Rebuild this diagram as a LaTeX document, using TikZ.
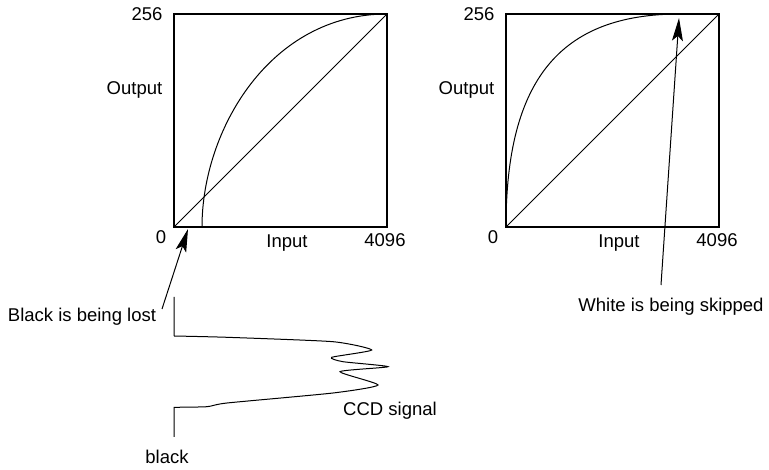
\documentclass[tikz,border=0pt]{standalone}
\usepackage{fontspec}
\setmainfont{Liberation Sans}
\usetikzlibrary{arrows.meta}
\begin{document}
\begin{tikzpicture}[x=1pt,y=-1pt,
  lbl/.style={font=\fontsize{18.5}{20}\selectfont, inner sep=0pt, anchor=base},
  frame/.style={line width=2pt},
  thin/.style={line width=1pt},
  ptr/.style={line width=1pt, -{Stealth[length=23pt,width=11pt,inset=5pt]}}]
\useasboundingbox (0,0) rectangle (769,470);
% left panel
\draw[frame] (174,14) rectangle (387,227);
\draw[thin] (174,227) -- (387,14);
\draw[thin] (202,227) .. controls (202,130) and (270,14) .. (387,14);
\node[lbl] (l256) at (147,20.7) {256};
\node[lbl] (lout) at (134.5,94.3) {Output};
\node[lbl] (l0) at (161,243.3) {0};
\node[lbl] (lin) at (287,248) {Input};
\node[lbl] (l4096) at (385,247) {4096};
% right panel
\draw[frame] (506,14) rectangle (719,227);
\draw[thin] (506,227) -- (719,14);
\draw[thin] (506,227) .. controls (506,80) and (560,14) .. (680,14);
\node[lbl] (r256) at (479,20.7) {256};
\node[lbl] (rout) at (466.5,94.3) {Output};
\node[lbl] (r0) at (493,243.3) {0};
\node[lbl] (rin) at (619,248) {Input};
\node[lbl] (r4096) at (717,247) {4096};
% annotations
\node[lbl] (lost) at (82,321.7) {Black is being lost};
\node[lbl] (skip) at (671,311.7) {White is being skipped};
\coordinate (losttail) at (162,309);
\coordinate (losttip) at (188,229);
\coordinate (skiptail) at (661,285);
\coordinate (skiptip) at (679,18);
\draw[ptr] (losttail) -- (losttip);
\draw[ptr] (skiptail) -- (skiptip);
% CCD signal
\draw[thin] (174,297) -- (174,336)
  plot[smooth, tension=0.35] coordinates {(174,336) (227,337.3) (333,341.7) (371.7,350) (331.7,357.3) (343,361.7) (388,366.7) (340,371.7) (378,385) (333,393) (227,403) (207,406.7) (174,407.3)}
  -- (174,437);
\node[lbl] (ccd) at (390,416) {CCD signal};
\node[lbl] (black) at (167,463.3) {black};
\end{tikzpicture}
\end{document}
